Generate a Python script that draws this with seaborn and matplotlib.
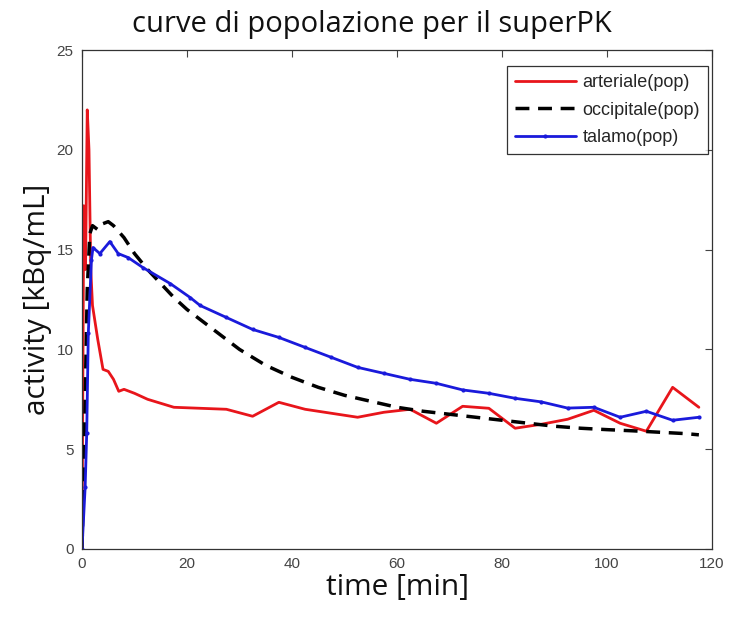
import matplotlib
matplotlib.use("Agg")
import matplotlib.pyplot as plt
import seaborn as sns
import numpy as np

# arterial (pop)
t_art = [0, 0.33, 0.67, 1.0, 1.33, 1.67, 2.0, 3, 4, 5, 6, 7, 8, 10, 12.5, 17.5, 22.5, 27.5,
         32.5, 37.5, 42.5, 47.5, 52.5, 57.5, 62.5, 67.5, 72.5, 77.5, 82.5, 87.5, 92.5,
         97.5, 102.5, 107.5, 112.5, 117.5]
v_art = [0, 17.2, 14.0, 22.0, 20.0, 14.0, 12.2, 10.5, 9.0, 8.9, 8.5, 7.9, 8.0, 7.8, 7.5, 7.1,
         7.05, 7.0, 6.65, 7.35, 7.0, 6.8, 6.6, 6.85, 7.0, 6.3, 7.15, 7.05, 6.05, 6.25, 6.5,
         6.95, 6.3, 5.9, 8.1, 7.1]

# occipitale (pop)
t_occ = [0, 0.5, 1, 1.5, 2, 3, 4, 5, 6, 8, 10, 12.5, 15, 17.5, 20, 25, 30, 35, 40, 45, 50,
         55, 60, 65, 70, 75, 80, 85, 90, 95, 100, 105, 110, 115, 117.5]
v_occ = [0, 6.0, 13.0, 15.8, 16.2, 16.0, 16.3, 16.4, 16.2, 15.6, 14.8, 14.0, 13.3, 12.6, 12.0,
         11.0, 10.0, 9.2, 8.6, 8.1, 7.7, 7.4, 7.1, 6.9, 6.75, 6.6, 6.45, 6.3, 6.15, 6.05, 5.98,
         5.92, 5.85, 5.78, 5.72]

# talamo (pop)
t_tal = [0, 0.6, 0.9, 1.2, 1.8, 2.1, 3.4, 5.3, 6.9, 8.8, 11.6, 16.8, 20.6, 22.5, 27.5, 32.5,
         37.5, 42.5, 47.5, 52.5, 57.5, 62.5, 67.5, 72.5, 77.5, 82.5, 87.5, 92.5, 97.5, 102.5,
         107.5, 112.5, 117.5]
v_tal = [0, 3.1, 5.8, 10.8, 14.5, 15.1, 14.8, 15.4, 14.8, 14.6, 14.1, 13.3, 12.6, 12.2, 11.6,
         11.0, 10.6, 10.1, 9.6, 9.1, 8.8, 8.5, 8.3, 7.97, 7.8, 7.55, 7.37, 7.06, 7.1, 6.6,
         6.9, 6.45, 6.6]

labels = ["arteriale(pop)", "occipitale(pop)", "talamo(pop)"]
xticks = [0, 20, 40, 60, 80, 100, 120]
yticks = [0, 5, 10, 15, 20, 25]

sns.set_style("white")
plt.rcParams['font.family'] = ['Liberation Sans', 'DejaVu Sans']

fig = plt.figure(figsize=(7.32, 6.23), dpi=100)
ax = fig.add_axes([82/732, 1-549/623, 630/732, 499/623])

sns.lineplot(x=t_art, y=v_art, ax=ax, color="#e8151b", lw=2.0, label=labels[0],
             estimator=None, sort=False)
sns.lineplot(x=t_occ, y=v_occ, ax=ax, color="black", lw=2.5, label=labels[1],
             estimator=None, sort=False, linestyle=(0, (4, 2.5)))
sns.lineplot(x=t_tal, y=v_tal, ax=ax, color="#1a1adb", lw=2.0, label=labels[2],
             estimator=None, sort=False, marker='.', markersize=6, markeredgewidth=0)

ax.set_xlim(0, 120)
ax.set_ylim(0, 25)
ax.set_xticks(xticks)
ax.set_yticks(yticks)
ax.tick_params(direction='in', top=True, right=True, length=5, width=0.8,
               labelsize=11, colors='#444444', pad=6)
for s in ax.spines.values():
    s.set_color('#333333')
    s.set_linewidth(0.9)

lab_font = ['Open Sans', 'DejaVu Sans']
ax.set_xlabel("time [min]", fontsize=21.5, family=lab_font, labelpad=1, color='#111111')
ax.set_ylabel("activity [kBq/mL]", fontsize=21.5, family=lab_font, labelpad=3, color='#111111')
fig.suptitle("curve di popolazione per il superPK", fontsize=21, family=lab_font,
             x=0.508, y=0.984, va='top', color='#111111')

leg = ax.legend(loc='upper right', bbox_to_anchor=(626/630, 483/499), fontsize=13,
                frameon=True, fancybox=False, edgecolor='black', borderaxespad=0,
                handlelength=3.4, labelspacing=0.58, borderpad=0.45, handletextpad=0.35)
leg.get_frame().set_linewidth(0.9)

fig.savefig("out.png", dpi=100, facecolor='white')
